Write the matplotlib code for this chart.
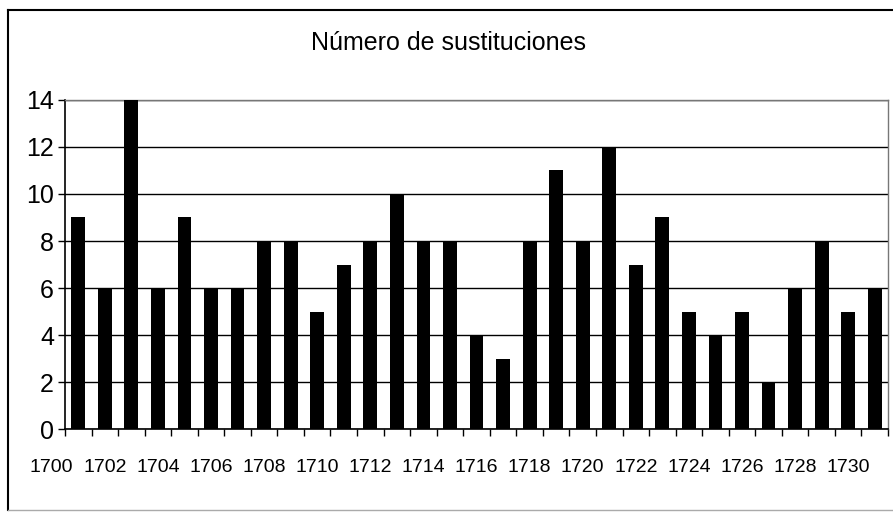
import matplotlib
matplotlib.use('Agg')
import matplotlib.pyplot as plt
import matplotlib.transforms as mtransforms
from matplotlib.lines import Line2D
import numpy as np

years = list(range(1701, 1732))
sustituciones = [9, 6, 14, 6, 9, 6, 6, 8, 8, 5, 7, 8, 10, 8, 8, 4, 3, 8, 11, 8,
                 12, 7, 9, 5, 4, 5, 2, 6, 8, 5, 6]
tick_years = list(range(1700, 1731, 2))
y_ticks = [0, 2, 4, 6, 8, 10, 12, 14]
title = 'Número de sustituciones'

plt.rcParams['font.family'] = ['Liberation Sans', 'DejaVu Sans']

fig = plt.figure(figsize=(8.93, 5.13), dpi=100)
ax = fig.add_axes([0.0728, 0.1637, 0.9216, 0.6414])

ax.bar(years, sustituciones, width=0.52, color='black', zorder=3)

ax.set_xlim(years[0] - 0.5, years[-1] + 0.5)
ax.set_ylim(0, 14)
ax.set_yticks(y_ticks)
ax.set_yticklabels([str(v) for v in y_ticks], fontsize=18)
ax.yaxis.grid(True, color='black', linewidth=1.0, zorder=1)
ax.tick_params(axis='y', length=5, width=1, pad=3, color='black')

# category boundary ticks, no labels
ax.set_xticks(np.arange(years[0] - 0.5, years[-1] + 1, 1.0))
ax.set_xticklabels([])
ax.tick_params(axis='x', length=5, width=1, direction='out', color='black')

# year labels sit at the year position (offset one slot from the bars)
trans = mtransforms.blended_transform_factory(ax.transData, ax.transAxes)
for yr in tick_years:
    ax.text(yr, -0.118, str(yr), transform=trans, ha='center', va='center',
            fontsize=14, clip_on=False)

for side in ['left', 'bottom']:
    ax.spines[side].set_color('black')
    ax.spines[side].set_linewidth(1.2)
for side in ['top', 'right']:
    ax.spines[side].set_color('#777777')
    ax.spines[side].set_linewidth(1.0)
    ax.spines[side].set_linestyle((0, (4, 1)))

fig.text(0.502, 0.916, title, ha='center', va='center', fontsize=18)

# outer chart frame (right side cut off in the scan)
fig.add_artist(Line2D([0.009, 0.009], [0.0058, 0.9805], color='black', linewidth=1.5))
fig.add_artist(Line2D([0.009, 1.0], [0.9805, 0.9805], color='black', linewidth=1.5))
fig.add_artist(Line2D([0.009, 1.0], [0.0058, 0.0058], color='#aaaaaa', linewidth=1.0))

fig.savefig('out.png', dpi=100)
